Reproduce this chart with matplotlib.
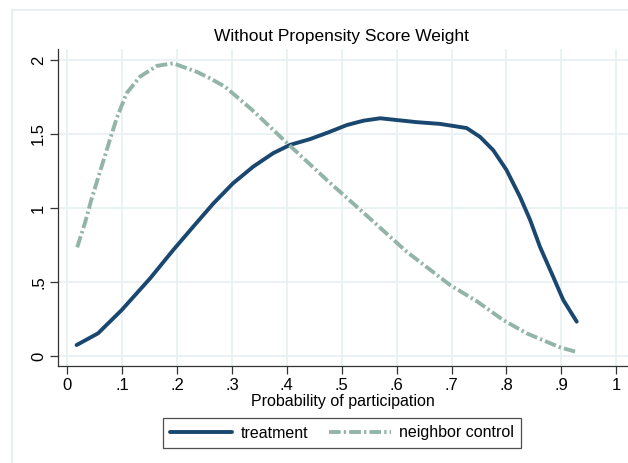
"""Densidad de la probabilidad de participacion, sin ponderacion por propensity score."""

import matplotlib

matplotlib.use("Agg")
import matplotlib.pyplot as plt  # noqa: E402
from matplotlib.patches import Rectangle  # noqa: E402

plt.rcParams["font.family"] = ["Liberation Sans", "DejaVu Sans"]

COLOR_TRAT = "#1a476f"
COLOR_CONTROL = "#93b5a8"
COLOR_GRILLA = "#e8f0f1"

# Curva de densidad del grupo tratado
x_trat = [0.017, 0.056, 0.099, 0.151, 0.193, 0.2295, 0.266, 0.302, 0.339, 0.375,
          0.4056, 0.442, 0.475, 0.509, 0.54, 0.57, 0.636, 0.679, 0.7275, 0.752,
          0.776, 0.80, 0.8246, 0.843, 0.861, 0.885, 0.9035, 0.928]
y_trat = [0.074, 0.153, 0.31, 0.525, 0.716, 0.874, 1.03, 1.167, 1.28, 1.37,
          1.426, 1.465, 1.51, 1.56, 1.59, 1.606, 1.58, 1.568, 1.54, 1.48,
          1.39, 1.257, 1.076, 0.92, 0.738, 0.536, 0.378, 0.232]

# Curva de densidad del grupo control vecino
x_ctrl = [0.018, 0.032, 0.0445, 0.0596, 0.0747, 0.090, 0.108, 0.1324, 0.163, 0.193,
          0.2357, 0.26, 0.287, 0.336, 0.40, 0.4725, 0.545, 0.618, 0.697, 0.746,
          0.794, 0.837, 0.897, 0.925]
y_ctrl = [0.734, 0.896, 1.065, 1.245, 1.426, 1.606, 1.775, 1.887, 1.96, 1.977,
          1.92, 1.876, 1.82, 1.665, 1.44, 1.19, 0.95, 0.705, 0.48, 0.37,
          0.243, 0.153, 0.059, 0.03]

ticks_x = [i / 10 for i in range(11)]
etiquetas_x = ["0", ".1", ".2", ".3", ".4", ".5", ".6", ".7", ".8", ".9", "1"]
ticks_y = [0, 0.5, 1, 1.5, 2]
etiquetas_y = ["0", ".5", "1", "1.5", "2"]

W, H = 628, 463
fig = plt.figure(figsize=(W / 100, H / 100), dpi=100)
ax = fig.add_axes([58 / W, 1 - 366 / H, (W - 58) / W, (366 - 49) / H])

# Borde tenue de la region del grafico
fig.patches.append(
    Rectangle((12 / W, -0.1), 2, 1.1 - 10 / H, transform=fig.transFigure,
              fill=False, edgecolor="#e3eced", linewidth=1.2)
)

ax.plot(x_trat, y_trat, color=COLOR_TRAT, lw=2.8, label="treatment",
        solid_capstyle="round", solid_joinstyle="round")
ax.plot(x_ctrl, y_ctrl, color=COLOR_CONTROL, lw=2.8, label="neighbor control",
        dashes=(3.0, 0.8, 0.6, 0.8))

ax.set_xlim(-0.0169, 1.0214)
ax.set_ylim(-0.0676, 2.074)
ax.set_xticks(ticks_x)
ax.set_xticklabels(etiquetas_x, fontsize=12)
ax.set_yticks(ticks_y)
ax.set_yticklabels(etiquetas_y, fontsize=12, rotation=90, va="center")
ax.tick_params(direction="out", length=5.5, width=0.9, color="#333333", pad=3)
ax.grid(True, color=COLOR_GRILLA, lw=1.2)
ax.set_axisbelow(True)
for lado in ("top", "right"):
    ax.spines[lado].set_visible(False)
for lado in ("left", "bottom"):
    ax.spines[lado].set_color("#333333")
    ax.spines[lado].set_linewidth(0.9)

ax.set_xlabel("Probability of participation", fontsize=11.5, labelpad=1)
fig.text(341 / W, 1 - 37 / H, "Without Propensity Score Weight",
         fontsize=12.5, ha="center", va="center")

leyenda = fig.legend(loc="center", bbox_to_anchor=(342 / W, 1 - 433 / H), ncol=2,
                     fontsize=11.5, handlelength=3.9, handletextpad=0.5,
                     columnspacing=1.3, frameon=True, fancybox=False,
                     borderpad=0.45)
leyenda.get_frame().set_edgecolor("#222222")
leyenda.get_frame().set_linewidth(0.9)

fig.savefig("out.png", dpi=100)
